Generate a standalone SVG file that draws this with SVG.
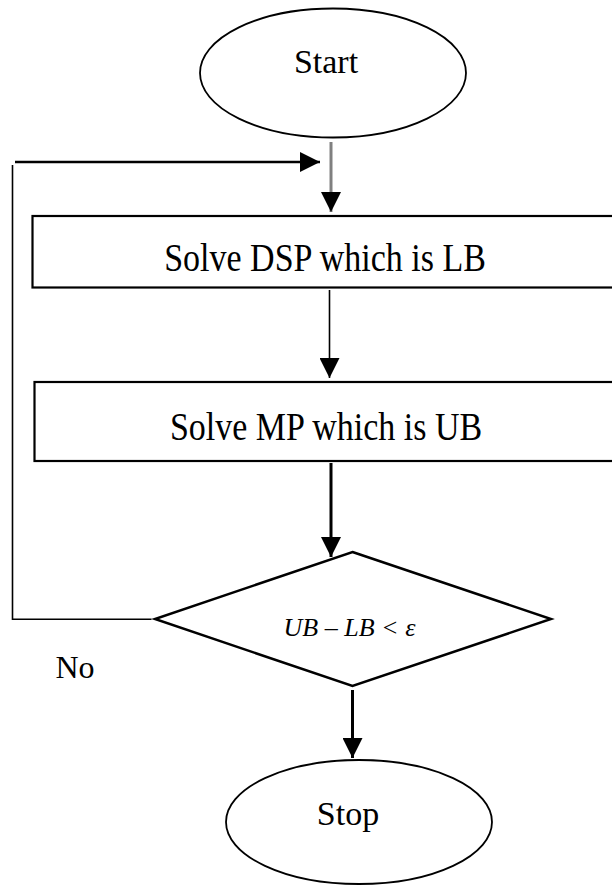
<svg xmlns="http://www.w3.org/2000/svg" width="612" height="885" viewBox="0 0 612 885">
<style>
.shape{fill:#fff;stroke:#000;}
.t{font-family:"Liberation Serif","Times New Roman",serif;font-size:34px;fill:#000;text-anchor:middle;}
.ti{font-family:"Liberation Serif","Times New Roman",serif;font-style:italic;font-size:26px;fill:#000;text-anchor:middle;}
.ln{fill:none;stroke:#000;}
</style>
<defs>
<marker id="ah" viewBox="0 0 20 20" refX="20" refY="10" markerWidth="20" markerHeight="20" markerUnits="userSpaceOnUse" orient="auto">
<path d="M0,0 L20,10 L0,20 Z" fill="#000"/>
</marker>
</defs>
<rect width="612" height="885" fill="#fff"/>
<g id="start">
<ellipse class="shape" cx="333" cy="73" rx="133" ry="64.5" stroke-width="1.8"/>
<text class="t" x="326" y="73">Start</text>
</g>
<g id="dsp">
<rect class="shape" x="32.5" y="216" width="590" height="71.5" stroke-width="2.2"/>
<text class="t" transform="translate(325,271) scale(1,1.18)">Solve DSP which is LB</text>
</g>
<g id="mp">
<rect class="shape" x="34.5" y="382" width="590" height="79" stroke-width="2.2"/>
<text class="t" transform="translate(326,440) scale(1,1.18)">Solve MP which is UB</text>
</g>
<g id="check">
<polygon class="shape" points="352.5,552 551,619 352.5,686 155,619" stroke-width="2.5"/>
<text class="ti" x="349.5" y="636">UB – LB &lt; ε</text>
</g>
<g id="stop">
<ellipse class="shape" cx="359" cy="822" rx="133" ry="62" stroke-width="1.8"/>
<text class="t" x="348" y="825">Stop</text>
</g>
<g id="connectors">
<line x1="331" y1="142" x2="331" y2="212" stroke="#808080" stroke-width="3" marker-end="url(#ah)"/>
<line class="ln" x1="329.5" y1="290" x2="329.5" y2="378" stroke-width="1.6" marker-end="url(#ah)"/>
<line class="ln" x1="331" y1="463" x2="331" y2="557" stroke-width="3" marker-end="url(#ah)"/>
<line class="ln" x1="352.5" y1="690" x2="352.5" y2="758" stroke-width="3" marker-end="url(#ah)"/>
<polyline class="ln" points="151.5,619.3 12.5,619.3 12.5,165" stroke-width="1.6"/>
<line class="ln" x1="15" y1="162" x2="320" y2="162" stroke-width="2.5" marker-end="url(#ah)"/>
<text class="t" x="75" y="678" style="font-size:32px">No</text>
</g>
</svg>
